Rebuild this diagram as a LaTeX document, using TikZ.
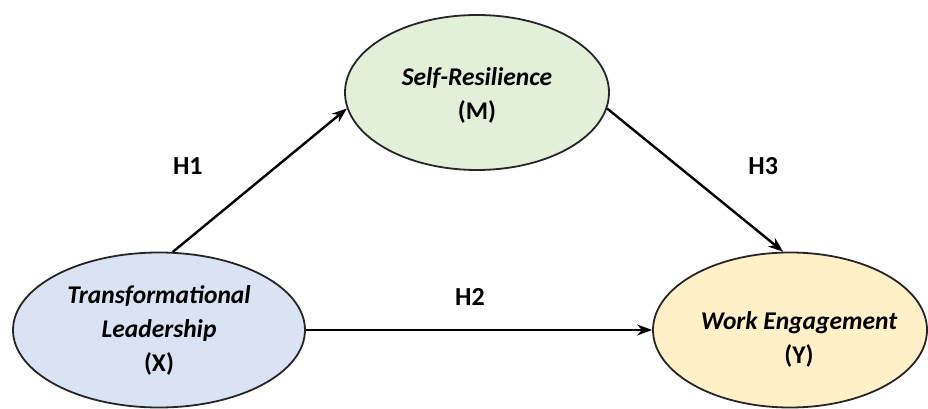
\documentclass[tikz,border=0pt]{standalone}
\usepackage{fontspec}
\setmainfont{Carlito}
\usepackage{tikz}
\usetikzlibrary{arrows.meta,shapes.geometric}
\usepackage{xcolor}

\definecolor{leadblue}{HTML}{DAE3F3}
\definecolor{resgreen}{HTML}{E2EFD9}
\definecolor{engyellow}{HTML}{FFF0C8}

\begin{document}
\begin{tikzpicture}[x=1pt,y=1pt,->,>={Stealth[length=15pt,width=11pt]},line width=2.4pt,
var node/.style={ellipse,draw=black!85,line width=1.8pt,minimum height=155pt,inner sep=0pt,align=center,
  font=\fontsize{25.5}{34}\selectfont\bfseries\itshape},
hyp/.style={font=\fontsize{26}{30}\selectfont\bfseries}]

\useasboundingbox (0,0) rectangle (928,409);

\node[var node,fill=leadblue,minimum width=292pt] (X) at (159,79) {Transformational\\Leadership\\\upshape(X)};
\node[var node,fill=resgreen,minimum width=264pt] (M) at (477,316.5) {\rule{0pt}{24pt}Self-Resilience\\\upshape(M)};
\node[var node,fill=engyellow,minimum width=274pt] (Y) at (790,79)
  {\makebox[0pt]{\hspace*{18pt}\rule{0pt}{36pt}Work Engagement}\\\makebox[0pt]{\hspace*{18pt}\upshape(Y)}};

\path[every node/.style={hyp}]
(X.80) edge node [xshift=-72pt,yshift=14pt] {H1} (M.187)
(X.east) edge node [xshift=-9pt,yshift=33pt] {H2} (Y.west)
(M.-7) edge node [xshift=68pt,yshift=14pt] {H3} (Y.95)
;
\end{tikzpicture}
\end{document}
